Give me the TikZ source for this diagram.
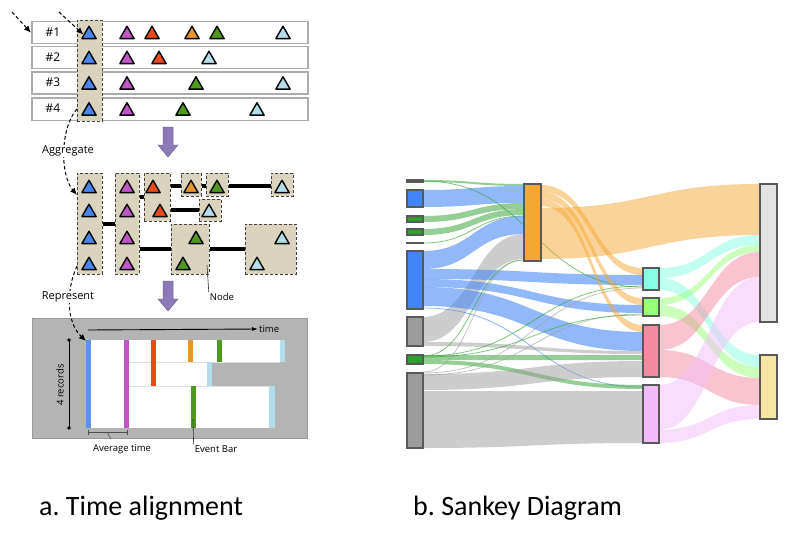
\documentclass[tikz,border=0pt]{standalone}
\usepackage{fontspec}
\setmainfont{Open Sans}
\newfontfamily\capfont{Carlito}
\usetikzlibrary{shapes.geometric,arrows.meta}
\frenchspacing
\definecolor{tblue}{HTML}{4A86F0}
\definecolor{tpurple}{HTML}{C255C8}
\definecolor{tred}{HTML}{E84A1A}
\definecolor{torange}{HTML}{E8962A}
\definecolor{tgreen}{HTML}{4E9A1E}
\definecolor{tlblue}{HTML}{B3DDE8}
\definecolor{tan}{HTML}{DAD4BF}
\definecolor{parrow}{HTML}{8C7AB8}
\definecolor{panelgray}{HTML}{B4B4B4}
\definecolor{sBlue}{HTML}{4285F4}
\definecolor{sGreen}{HTML}{2CA02C}
\definecolor{sDGreen}{HTML}{2E6B30}
\definecolor{sGray}{HTML}{9C9C9C}
\definecolor{sOrange}{HTML}{F4A733}
\definecolor{sCyan}{HTML}{86FFE4}
\definecolor{sLGreen}{HTML}{98FF78}
\definecolor{sPink}{HTML}{F48AA0}
\definecolor{sLav}{HTML}{F1BCF9}
\definecolor{sLGray}{HTML}{E3E3E3}
\definecolor{sYellow}{HTML}{F7E6A3}
\newcommand\sflow[7]{%
  \fill[fill opacity=0.5,#7] (#1,#2) .. controls ({(#1+#4)/2},#2) and ({(#1+#4)/2},#5) .. (#4,#5) -- (#4,#6) .. controls ({(#1+#4)/2},#6) and ({(#1+#4)/2},#3) .. (#1,#3) -- cycle;}
\newcommand\sline[5]{%
  \draw[#5,opacity=0.6,line width=0.8pt] (#1,#2) .. controls ({(#1+#3)/2},#2) and ({(#1+#3)/2},#4) .. (#3,#4);}
\begin{document}
\begin{tikzpicture}[x=1pt,y=-1pt,
  tri/.style={regular polygon,regular polygon sides=3,minimum size=16.5pt,inner sep=0pt,draw=black,line width=1.4pt,line join=round,fill=#1},
  rowbox/.style={draw=gray!65,line width=1.5pt,fill=white,minimum width=276pt,minimum height=22pt,anchor=north west,inner sep=0pt},
  aggbox/.style={draw=black!75,dashed,dash pattern=on 3pt off 2pt,line width=0.9pt,fill=tan,anchor=north west,inner sep=0pt},
  dasharrow/.style={draw=black,line width=1pt,dash pattern=on 3.5pt off 2.5pt,-{Latex[length=7pt,width=6pt]}},
  edge/.style={line width=4pt,black},
  lab/.style={font=\fontsize{9.5pt}{11pt}\selectfont,inner sep=1pt},
  biglab/.style={font=\fontsize{11pt}{13pt}\selectfont,inner sep=1pt},
  snode/.style={draw=black!65,line width=1.1pt,fill=#1},
  bflow/.style={sBlue,fill opacity=0.58}
]
\useasboundingbox (0,0) rectangle (802,532);
% ---------------- Part a: records ----------------
\node[rowbox] (row1) at (31,21) {};
\node[rowbox] (row2) at (31,46) {};
\node[rowbox] (row3) at (31,71.5) {};
\node[rowbox] (row4) at (31,97.5) {};
\foreach \i/\y in {1/32,2/57,3/82.5,4/108.5}{
  \node[font=\fontsize{12pt}{14pt}\selectfont] (lab\i) at (53,\y) {\#\i};
}
\node[aggbox,minimum width=25pt,minimum height=101pt] (col) at (77,20) {};
% triangles rows
\node[tri=tblue] (a1) at (89,34.5) {};
\node[tri=tpurple] (a2) at (127,34.5) {};
\node[tri=tred] (a3) at (152,34.5) {};
\node[tri=torange] (a4) at (192,34.5) {};
\node[tri=tgreen] (a5) at (217,34.5) {};
\node[tri=tlblue] (a6) at (283,34.5) {};
\node[tri=tblue] (b1) at (89,59.5) {};
\node[tri=tpurple] (b2) at (127,59.5) {};
\node[tri=tred] (b3) at (159,59.5) {};
\node[tri=tlblue] (b4) at (209,59.5) {};
\node[tri=tblue] (c1) at (89,85) {};
\node[tri=tpurple] (c2) at (127,85) {};
\node[tri=tgreen] (c3) at (196,85) {};
\node[tri=tlblue] (c4) at (283,85) {};
\node[tri=tblue] (d1) at (89,111) {};
\node[tri=tpurple] (d2) at (127,111) {};
\node[tri=tgreen] (d3) at (183,111) {};
\node[tri=tlblue] (d4) at (257,111) {};
% top dashed arrows
\coordinate (s1) at (12,12);
\coordinate (s2) at (59,12);
\draw[dasharrow] (s1) -- (row1.west);
\draw[dasharrow] (s2) -- (a1.west);
% purple arrows
\fill[parrow,draw=parrow!80!black,line width=0.5pt] (163,127)--(173,127)--(173,145)--(178,145)--(168,157)--(158,145)--(163,145)--cycle;
\fill[parrow,draw=parrow!80!black,line width=0.5pt] (163,281)--(173,281)--(173,299)--(178,299)--(168,311)--(158,299)--(163,299)--cycle;
% ---------------- aggregated ----------------
\node[aggbox,minimum width=25pt,minimum height=101pt] (gb) at (77,173) {};
\node[aggbox,minimum width=24pt,minimum height=101pt] (gp) at (115,173) {};
\node[aggbox,minimum width=26pt,minimum height=48pt] (gr) at (144,173) {};
\node[aggbox,minimum width=20pt,minimum height=23pt] (go) at (181,173) {};
\node[aggbox,minimum width=22pt,minimum height=23pt] (gg) at (206,173) {};
\node[aggbox,minimum width=22pt,minimum height=23pt] (gl) at (271,173) {};
\node[aggbox,minimum width=22pt,minimum height=22pt] (gl2) at (199,199) {};
\node[aggbox,minimum width=38pt,minimum height=50pt] (gg2) at (171,224) {};
\node[aggbox,minimum width=51pt,minimum height=50pt] (gl3) at (245,224) {};
% edges
\draw[edge] (gb.east |- 0,224) -- (gp.west |- 0,224);
\draw[edge] (gp.east |- 0,197) -- (gr.west |- 0,197);
\draw[edge] (gr.east |- 0,186) -- (go.west |- 0,186);
\draw[edge] (go.east |- 0,186) -- (gg.west |- 0,186);
\draw[edge] (gg.east |- 0,186) -- (gl.west |- 0,186);
\draw[edge] (gr.east |- 0,210) -- (gl2.west |- 0,210);
\draw[edge] (gp.east |- 0,249) -- (gg2.west |- 0,249);
\draw[edge] (gg2.east |- 0,249) -- (gl3.west |- 0,249);
% triangles
\foreach \y [count=\k] in {188.5,212.5,239.5,265.5}{
  \node[tri=tblue] (gbt\k) at (89,\y) {};
  \node[tri=tpurple] (gpt\k) at (127,\y) {};
}
\node[tri=tred] (gr1) at (153,188.5) {};
\node[tri=tred] (gr2) at (160,212.5) {};
\node[tri=torange] (go1) at (191,188.5) {};
\node[tri=tgreen] (gg1) at (217,188.5) {};
\node[tri=tlblue] (gl1) at (282,188.5) {};
\node[tri=tlblue] (gl21) at (209,212.5) {};
\node[tri=tgreen] (gg21) at (196,239.5) {};
\node[tri=tgreen] (gg22) at (183,265.5) {};
\node[tri=tlblue] (gl31) at (282,239.5) {};
\node[tri=tlblue] (gl32) at (257,265.5) {};
% Aggregate arrow
\draw[dasharrow] (col.south west) ++(0,-13) .. controls (60,128) and (60,175) .. (gb.north west |- 0,195);
\node[biglab,fill=white] (agg) at (68,151) {Aggregate};
% Node label
\node[lab] (nodelab) at (222,297) {Node};
\draw[black!80,line width=0.6pt] (207,265) -- (nodelab.north west);
% ---------------- represent panel ----------------
\node[draw=black!40,line width=1pt,fill=panelgray,minimum width=275pt,minimum height=120pt,anchor=north west,inner sep=0pt] (panel) at (32,318) {};
\fill[white] (91,340) rectangle (124,428);
\fill[white] (129,340) rectangle (280,362);
\fill[white] (129,362) rectangle (207,386);
\fill[white] (129,386) rectangle (269,428);
\draw[black!12,line width=0.6pt] (129,362) -- (280,362);
\draw[black!12,line width=0.6pt] (129,386) -- (269,386);
\fill[tblue!90!white] (86,340) rectangle (91,428);
\fill[tpurple] (124,340) rectangle (129,428);
\fill[tred] (151,340) rectangle (156,386);
\fill[torange] (188,340) rectangle (193,362);
\fill[tgreen] (217,340) rectangle (222,362);
\fill[tlblue] (280,340) rectangle (285,362);
\fill[tlblue] (207,362) rectangle (212,386);
\fill[tgreen] (191,386) rectangle (196,428);
\fill[tlblue] (269,386) rectangle (275,428);
% time arrow
\coordinate (t0) at (88,330);
\node[lab,anchor=west] (timelab) at (258,329) {time};
\draw[black,line width=0.9pt,-{Latex[length=6pt,width=4pt]}] (t0) -- (timelab.west);
% 4 records
\coordinate (r0) at (69,340);
\coordinate (r1) at (69,428);
\draw[black,line width=0.9pt] (r0) -- (r1);
\fill (r0) circle (1.8pt);
\fill (r1) circle (1.8pt);
\node[lab,rotate=90] (rec) at (60,385) {4 records};
% average time
\coordinate (av0) at (88,432);
\coordinate (av1) at (127,432);
\draw[black!70,line width=0.9pt] (av0) -- (av1);
\draw[black!70,line width=0.9pt] (88,429.5) -- (88,434.5) (127,429.5) -- (127,434.5);
\node[lab] (avlab) at (122,449) {Average time};
\draw[black!70,line width=0.6pt] (107,432) -- (111,439);
% event bar
\node[lab] (evlab) at (216,449) {Event Bar};
\draw[black!80,line width=0.6pt] (193,419) -- (evlab.north west);
% Represent arrow
\draw[dasharrow] (77,266) .. controls (66,290) and (66,322) .. (86,341);
\node[biglab,fill=white] (rep) at (68,297) {Represent};
% ---------------- Part b: Sankey ----------------
% left -> orange
\sflow{423}{180}{182}{524}{184}{186}{sGreen}
\sflow{423}{190}{207}{524}{186}{203}{bflow}
\sflow{423}{216}{222}{524}{203}{209}{sGreen}
\sflow{423}{229}{235}{524}{209}{215}{sGreen}
\sline{423}{243}{524}{216}{sGreen}
\sflow{423}{251}{269}{524}{216}{234}{bflow}
\sflow{423}{317}{342}{524}{234}{259}{sGray}
% left -> middle
\sflow{423}{269}{279}{643}{275}{285}{bflow}
\sflow{423}{279}{287}{643}{305}{313}{bflow}
\sflow{423}{287}{306}{643}{332}{351}{bflow}
\sline{423}{308}{643}{387}{sBlue}
\sline{423}{181}{643}{287}{sGreen}
\sflow{423}{342}{346}{643}{351}{354}{sGray}
\sflow{423}{355}{360}{643}{355}{360}{sGreen}
\sflow{423}{360}{364}{643}{385}{389}{sGreen}
\sflow{423}{374}{390}{643}{361}{377}{sGray}
\sflow{423}{391}{448}{643}{391}{443}{sGray}
\sline{423}{373}{643}{288}{sGray}
\sline{423}{375}{643}{314}{sGray}
\sline{423}{356}{643}{286}{sGreen}
\sline{423}{357}{643}{315}{sGreen}
\sline{423}{356}{524}{260}{sGreen}
\sline{423}{372}{524}{260}{sGray}
% orange -> middle/right
\sflow{541}{185}{192}{643}{268}{275}{sOrange}
\sflow{541}{192}{199}{643}{298}{305}{sOrange}
\sflow{541}{199}{206}{643}{325}{332}{sOrange}
\sflow{541}{208}{259}{760}{184}{235}{sOrange}
% middle -> right
\sflow{659}{268}{278}{760}{235}{245}{sCyan}
\sflow{659}{278}{290}{760}{355}{367}{sCyan}
\sflow{659}{298}{305}{760}{245}{252}{sLGreen}
\sflow{659}{305}{316}{760}{367}{378}{sLGreen}
\sflow{659}{325}{350}{760}{252}{277}{sPink}
\sflow{659}{350}{377}{760}{378}{405}{sPink}
\sflow{659}{385}{430}{760}{277}{322}{sLav}
\sflow{659}{430}{443}{760}{405}{419}{sLav}
% sankey nodes
\draw[snode=sDGreen] (407,180) rectangle (423,182);
\draw[snode=sBlue] (407,190) rectangle (423,207);
\draw[snode=sGreen] (407,216) rectangle (423,222);
\draw[snode=sGreen] (407,229) rectangle (423,235);
\draw[snode=black] (407,242.5) rectangle (423,243.5);
\draw[snode=sBlue] (407,251) rectangle (423,309);
\draw[snode=sGray] (407,317) rectangle (423,346);
\draw[snode=sGreen] (407,355) rectangle (423,364);
\draw[snode=sGray] (407,373) rectangle (423,448);
\draw[snode=sOrange] (524,184) rectangle (541,261);
\draw[snode=sCyan] (643,268) rectangle (659,290);
\draw[snode=sLGreen] (643,298) rectangle (659,316);
\draw[snode=sPink] (643,325) rectangle (659,377);
\draw[snode=sLav] (643,385) rectangle (659,443);
\draw[snode=sLGray] (760,184) rectangle (777,322);
\draw[snode=sYellow] (760,355) rectangle (777,419);
% captions
\node[font=\capfont\fontsize{28pt}{32pt}\selectfont,anchor=base west,inner sep=0pt] (capa) at (39,515) {a. Time alignment};
\node[font=\capfont\fontsize{28pt}{32pt}\selectfont,anchor=base west,inner sep=0pt] (capb) at (413,515) {b. Sankey Diagram};
\end{tikzpicture}
\end{document}
